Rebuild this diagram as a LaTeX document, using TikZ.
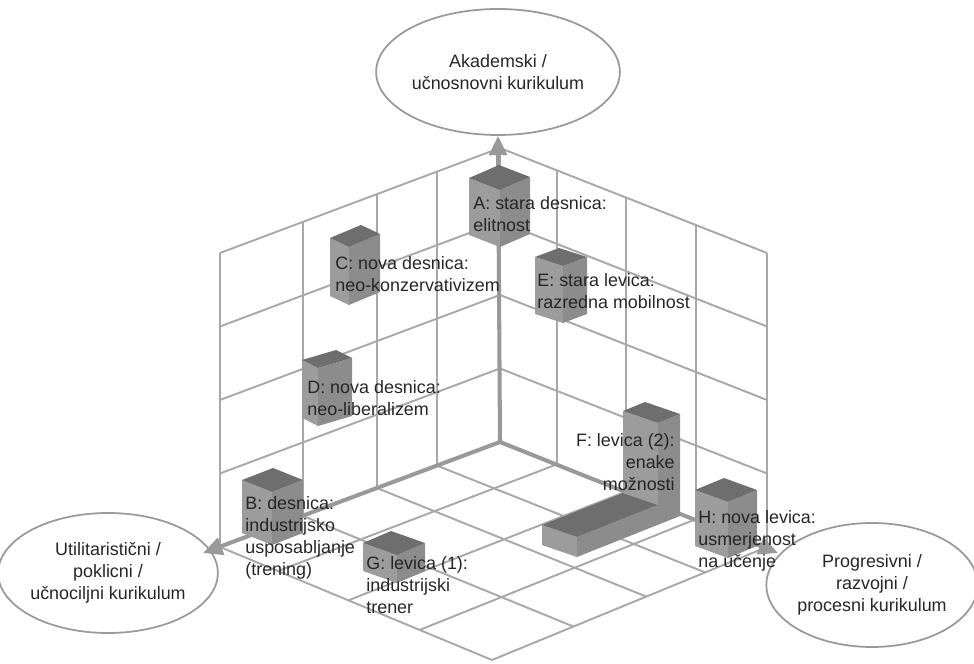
\documentclass[tikz,border=0pt]{standalone}
\usepackage{fontspec}
\setmainfont{Liberation Sans}
\usetikzlibrary{arrows.meta}
\usetikzlibrary{shapes.geometric}
\definecolor{gline}{gray}{0.66}
\definecolor{gaxis}{gray}{0.6}
\definecolor{ctop}{gray}{0.43}
\definecolor{cleft}{gray}{0.61}
\definecolor{cright}{gray}{0.55}
\tikzset{gridline/.style = {draw=gline, line width=1.1pt}}
\tikzset{axisline/.style = {draw=gaxis, line width=2.3pt, -{Triangle[length=11pt, width=10pt]}}}
\tikzset{kur/.style = {ellipse, draw=gaxis, line width=1pt, align=center, inner sep=0}}
\tikzset{lbl/.style = {anchor=north west, align=left, inner sep=0}}
\tikzset{every node/.style={font=\fontsize{10.2}{12.5}\selectfont, text=black!85}}
% block: front-bottom x, y, left vector, right vector, height
\newcommand{\blok}[7]{%
  \fill[cleft] (#1,#2) -- (#1+#3,#2+#4) -- (#1+#3,#2+#4-#7) -- (#1,#2-#7) -- cycle;
  \fill[cright] (#1,#2) -- (#1+#5,#2+#6) -- (#1+#5,#2+#6-#7) -- (#1,#2-#7) -- cycle;
  \fill[ctop] (#1,#2-#7) -- (#1+#3,#2+#4-#7) -- (#1+#3+#5,#2+#4+#6-#7) -- (#1+#5,#2+#6-#7) -- cycle;
}

\begin{document}
\begin{tikzpicture}[x=0.2mm, y=-0.2mm]
    \useasboundingbox (0,0) rectangle (974,664);

    % walls and floor
    \foreach \t in {0,0.225,0.439,0.704,1}
      \draw[gridline] (500-280*\t, 442+105*\t) -- ++(0,-294);
    \foreach \t in {0.213,0.472,0.734,1}
      \draw[gridline] (500+267*\t, 442+105*\t) -- ++(0,-294);
    \foreach \k in {1,...,4} {
      \draw[gridline] (500,442-73.5*\k) -- ++(-280,105);
      \draw[gridline] (500,442-73.5*\k) -- ++(267,105);
    }
    \foreach \t in {0.225,0.439,0.704,1}
      \draw[gridline] (500-280*\t, 442+105*\t) -- (767-275*\t, 547+113*\t);
    \foreach \t in {0.213,0.472,0.734,1}
      \draw[gridline] (500+267*\t, 442+105*\t) -- (220+272*\t, 547+113*\t);

    \node [kur, minimum width=35.2mm, minimum height=25.2mm] (akad) at (498,72) {Akademski /\\učnosnovni kurikulum};
    \node [kur, minimum width=40.4mm, minimum height=24mm] (util) at (108,573) {Utilitaristični /\\poklicni /\\učnociljni kurikulum};
    \node [kur, minimum width=39.6mm, minimum height=24.8mm] (prog) at (872,585) {Progresivni /\\razvojni /\\procesni kurikulum};

    \coordinate (O) at (500,442);
    \coordinate (ltip) at (203,553);
    \coordinate (rtip) at (778,553);
    \draw[axisline] (O) -- (akad.south);
    \draw[axisline] (O) -- (ltip);
    \draw[axisline] (O) -- (rtip);

    \blok{500}{247}{-31}{-12}{30}{-13}{57}
    \blok{349}{305}{-19}{-9}{31}{-13}{58}
    \blok{563}{323}{-28}{-9}{24}{-9}{57}
    \blok{318}{426}{-16}{-8}{34}{-10}{58}
    \blok{272}{545}{-30}{-12}{31}{-12}{53}
    \blok{397}{583}{-34}{-12}{28}{-12}{28}
    \blok{728}{558}{-33}{-12}{29}{-12}{56}
    % F: L-shaped block
    \fill[cright] (577,557) -- (680,516) -- (680,414) -- (658,423) -- (658,505) -- (577,537) -- cycle;
    \fill[cleft] (577,557) -- (577,537) -- (542,525) -- (542,545) -- cycle;
    \fill[ctop] (577,537) -- (658,505) -- (623,493) -- (542,525) -- cycle;
    \fill[cleft] (658,505) -- (658,423) -- (623,411) -- (623,493) -- cycle;
    \fill[ctop] (658,423) -- (680,414) -- (645,402) -- (623,411) -- cycle;

    \node [lbl] (lblA) at (473,196) {A: stara desnica:\\elitnost};
    \node [lbl] (lblC) at (335,256) {C: nova desnica:\\neo-konzervativizem};
    \node [lbl] (lblE) at (537,273) {E: stara levica:\\razredna mobilnost};
    \node [lbl] (lblD) at (307,380) {D: nova desnica:\\neo-liberalizem};
    \node [lbl] (lblB) at (245,496) {B: desnica:\\industrijsko\\usposabljanje\\(trening)};
    \node [lbl] (lblG) at (366,556) {G: levica (1):\\industrijski\\trener};
    \node [lbl, anchor=north east, align=right] (lblF) at (675,433) {F: levica (2):\\enake\\možnosti};
    \node [lbl] (lblH) at (698,510) {H: nova levica:\\usmerjenost\\na učenje};
  \end{tikzpicture}
\end{document}
